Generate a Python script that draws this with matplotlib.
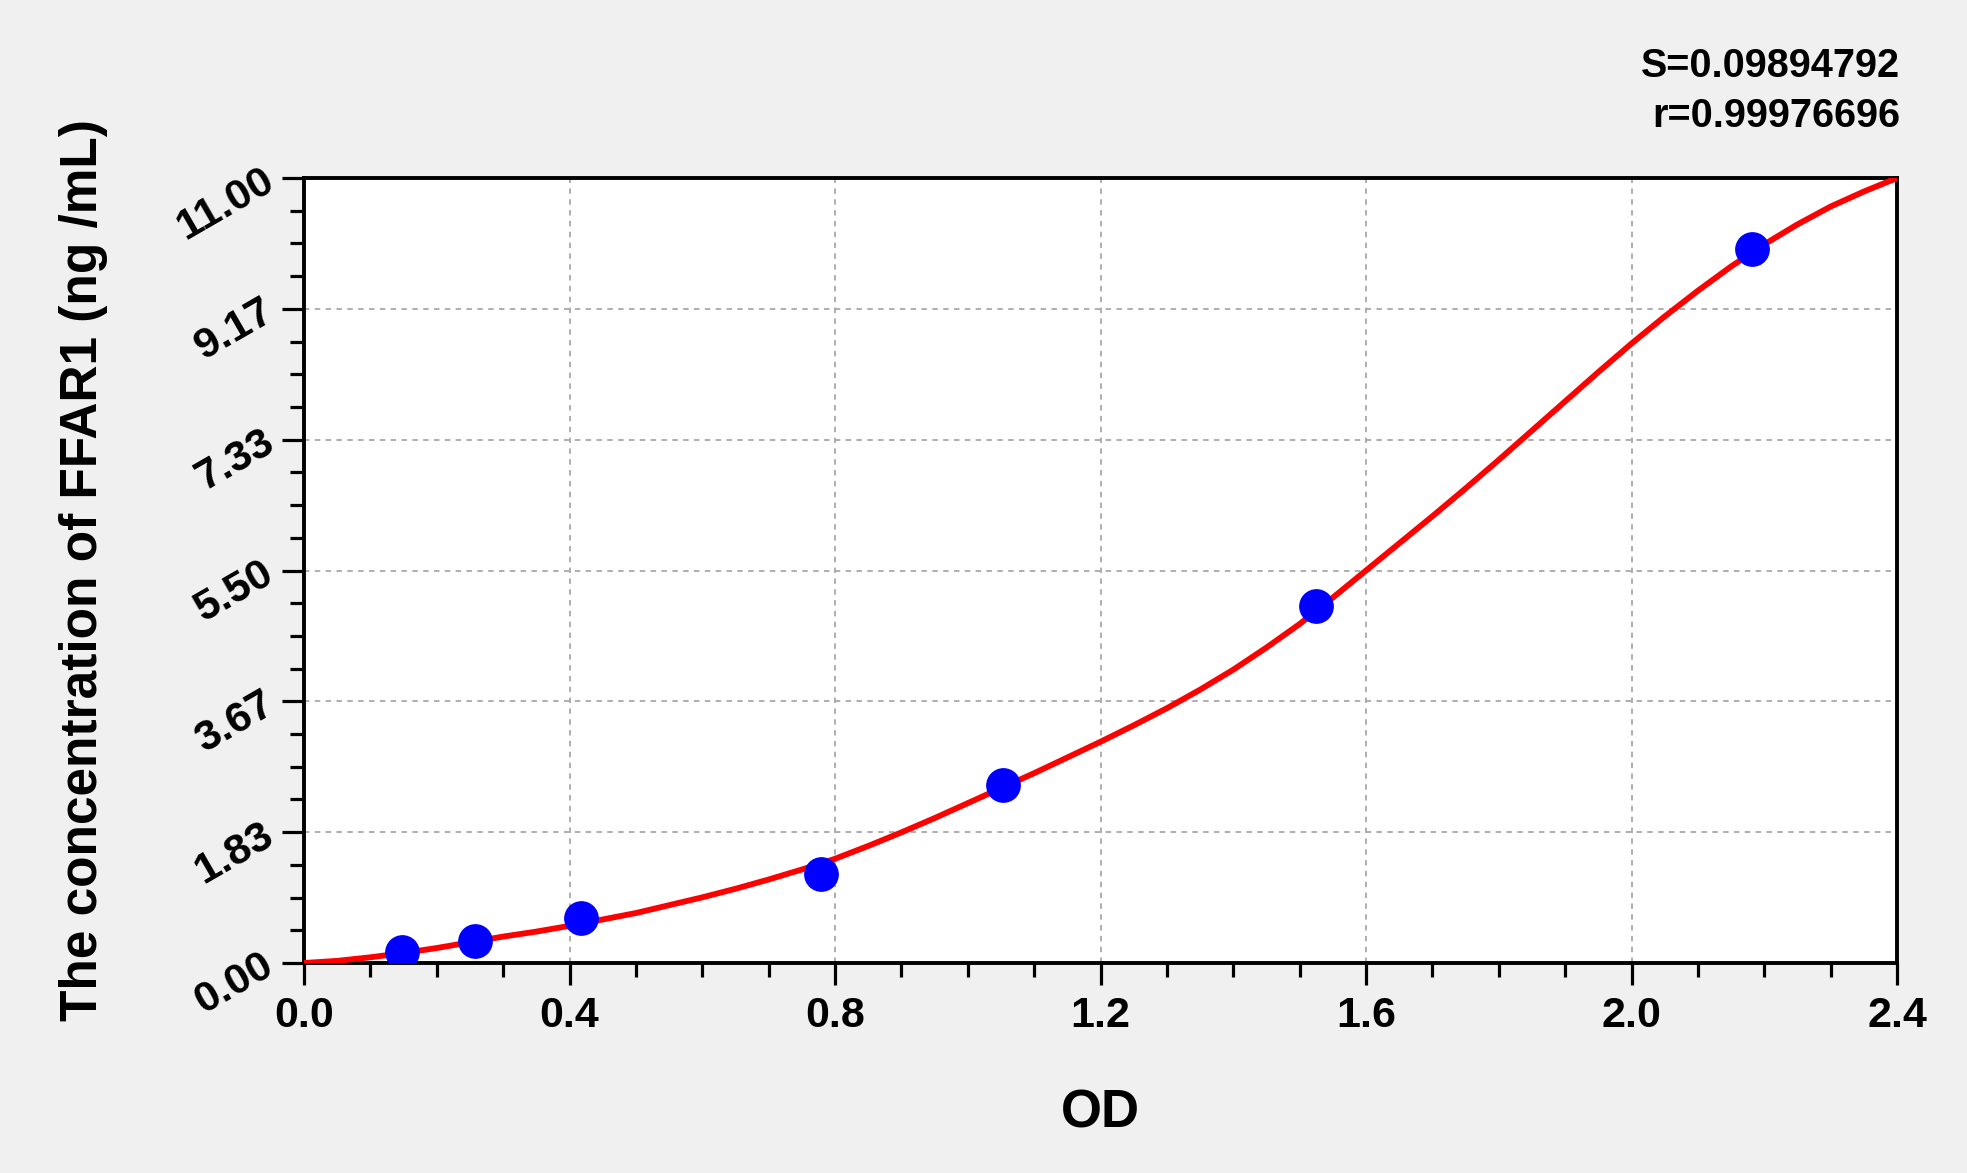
import numpy as np
import matplotlib
matplotlib.use("Agg")
import matplotlib.pyplot as plt
from matplotlib.ticker import MultipleLocator, FixedLocator

plt.rcParams['font.family'] = ['Liberation Sans', 'DejaVu Sans']
plt.rcParams['font.weight'] = 'bold'

# Standard points (OD, concentration)
od_points = [0.148, 0.257, 0.418, 0.779, 1.053, 1.524, 2.182]
conc_points = [0.156, 0.312, 0.625, 1.25, 2.5, 5.0, 10.0]

# Fitted curve, values
curve_od = [0.00, 0.05, 0.10, 0.15, 0.20, 0.25, 0.30, 0.35, 0.40, 0.45,
            0.50, 0.55, 0.60, 0.65, 0.70, 0.75, 0.80, 0.85, 0.90, 0.95,
            1.00, 1.05, 1.10, 1.15, 1.20, 1.25, 1.30, 1.35, 1.40, 1.45,
            1.50, 1.55, 1.60, 1.65, 1.70, 1.75, 1.80, 1.85, 1.90, 1.95,
            2.00, 2.05, 2.10, 2.15, 2.20, 2.25, 2.30, 2.35, 2.40]
curve_conc = [0.00, 0.03, 0.08, 0.14, 0.21, 0.29, 0.37, 0.44, 0.52, 0.61,
              0.70, 0.81, 0.92, 1.04, 1.17, 1.31, 1.46, 1.64, 1.83, 2.03,
              2.24, 2.45, 2.66, 2.88, 3.10, 3.33, 3.57, 3.83, 4.11, 4.42,
              4.75, 5.12, 5.50, 5.88, 6.26, 6.65, 7.05, 7.46, 7.87, 8.28,
              8.68, 9.06, 9.42, 9.76, 10.07, 10.35, 10.60, 10.81, 11.00]

x_ticks = [0.0, 0.4, 0.8, 1.2, 1.6, 2.0, 2.4]
x_tick_labels = ["0.0", "0.4", "0.8", "1.2", "1.6", "2.0", "2.4"]
y_tick_labels = ["0.00", "1.83", "3.67", "5.50", "7.33", "9.17", "11.00"]
y_max = 11.0

stats_text = ["S=0.09894792", "r=0.99976696"]
x_label = "OD"
y_label = "The concentration of FFAR1 (ng /mL)"

W, H = 1967, 1173
fig = plt.figure(figsize=(W / 100, H / 100), dpi=100, facecolor='#f0f0f0')
ax = fig.add_axes([304 / W, 1 - 963 / H, (1897 - 304) / W, (963 - 178) / H])
ax.set_facecolor('white')

ax.plot(curve_od, curve_conc, color='#ff0000', lw=4.2, zorder=3,
        solid_capstyle='round', solid_joinstyle='round')
ax.plot(od_points, conc_points, 'o', color='#0000ff', ms=24, zorder=4, mec='#0000ff')

ax.set_xlim(0, 2.4)
ax.set_ylim(0, y_max)

y_ticks = [i * y_max / 6 for i in range(7)]
ax.set_xticks(x_ticks)
ax.set_xticklabels(x_tick_labels)
ax.set_yticks(y_ticks)
ax.set_yticklabels(y_tick_labels, rotation=30, ha='right', va='center', rotation_mode='anchor')
ax.xaxis.set_minor_locator(MultipleLocator(0.1))
ax.yaxis.set_minor_locator(FixedLocator([i * y_max / 24 for i in range(25)]))

ax.tick_params(axis='both', which='major', length=16, width=2.3, labelsize=31, color='black')
ax.tick_params(axis='both', which='minor', length=10, width=2.3)
ax.tick_params(axis='x', which='major', pad=8)
ax.tick_params(axis='y', which='major', pad=8)
for lab in ax.get_xticklabels() + ax.get_yticklabels():
    lab.set_fontweight('bold')

for s in ax.spines.values():
    s.set_linewidth(2.8)

ax.grid(True, which='major', color='#a8a8a8', linestyle=(0, (3, 3)), linewidth=1.3, zorder=1)
ax.set_axisbelow(True)

ax.set_xlabel(x_label, fontsize=38, fontweight='bold')
ax.xaxis.set_label_coords(0.5, -(1113 - 963) / (963 - 178), transform=ax.transAxes)
ax.set_ylabel(y_label, fontsize=37, fontweight='bold')
ax.yaxis.set_label_coords(-(304 - 83) / (1897 - 304), 0.5, transform=ax.transAxes)
ax.xaxis.label.set_va('center')
ax.yaxis.label.set_va('center')

fig.text(1900 / W, 1 - 66 / H, stats_text[0], ha='right', va='center', fontsize=28.5, fontweight='bold')
fig.text(1900 / W, 1 - 116 / H, stats_text[1], ha='right', va='center', fontsize=28.5, fontweight='bold')

fig.savefig("out.png", dpi=100, facecolor=fig.get_facecolor())
